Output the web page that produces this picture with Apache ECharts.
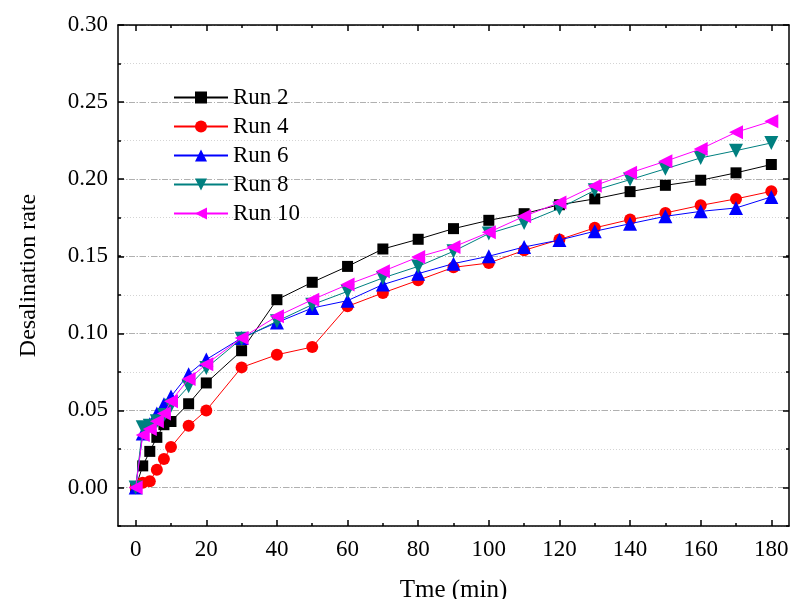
<!DOCTYPE html>
<html>
<head>
<meta charset="utf-8">
<script src="https://cdn.jsdelivr.net/npm/echarts@6/dist/echarts.min.js"></script>
<style>html,body{margin:0;padding:0;background:#fff;}#c{width:792px;height:599px;}</style>
</head>
<body>
<div id="c"></div>
<script>
var times = [0, 2, 4, 6, 8, 10, 15, 20, 30, 40, 50, 60, 70, 80, 90, 100, 110, 120, 130, 140, 150, 160, 170, 180];
var run2 = [0, 0.014, 0.0234, 0.0325, 0.0407, 0.0428, 0.0543, 0.0678, 0.0887, 0.1218, 0.1331, 0.1434, 0.1547, 0.161, 0.1679, 0.1733, 0.1776, 0.1834, 0.1872, 0.1919, 0.196, 0.1993, 0.2041, 0.2095];
var run4 = [0, 0.003, 0.004, 0.0115, 0.0184, 0.0262, 0.040, 0.050, 0.0779, 0.0861, 0.0911, 0.1175, 0.1262, 0.1344, 0.1428, 0.1456, 0.1538, 0.1608, 0.1684, 0.1738, 0.1781, 0.183, 0.1872, 0.1921];
var run6 = [0, 0.035, 0.041, 0.048, 0.054, 0.059, 0.0735, 0.083, 0.097, 0.107, 0.1164, 0.1212, 0.1316, 0.1387, 0.1452, 0.150, 0.156, 0.1605, 0.1662, 0.1711, 0.1759, 0.1791, 0.1813, 0.1885];
var run8 = [0, 0.039, 0.040, 0.043, 0.047, 0.053, 0.0656, 0.0775, 0.0965, 0.1078, 0.1186, 0.1272, 0.1359, 0.1434, 0.1532, 0.1647, 0.1716, 0.181, 0.1928, 0.1997, 0.2067, 0.2138, 0.2185, 0.2235];
var run10 = [0, 0.034, 0.038, 0.043, 0.048, 0.056, 0.0703, 0.080, 0.097, 0.111, 0.1218, 0.1316, 0.1402, 0.1495, 0.156, 0.1655, 0.1759, 0.1848, 0.1958, 0.2041, 0.2116, 0.2196, 0.2304, 0.2376];
var seriesNames = ['Run 2', 'Run 4', 'Run 6', 'Run 8', 'Run 10'];
var xMajorTicks = [0, 20, 40, 60, 80, 100, 120, 140, 160, 180];
var xMinorTicks = [10, 30, 50, 70, 90, 110, 130, 150, 170];

var FONT = '"Liberation Serif", "Times New Roman", serif';
function pairs(ys) { return times.map(function (t, i) { return [t, ys[i]]; }); }

var colors = ['#000000', '#ff0000', '#0000ff', '#008080', '#ff00ff'];
var symbols = ['rect', 'circle', 'triangle', 'triangle', 'triangle'];
var rotates = [0, 0, 0, 180, 90];
var sizes = [11, 12, 14, 14, 14];
var allData = [run2, run4, run6, run8, run10];

var G = { left: 118, right: 3, top: 25, bottom: 73 };
var axisLineStyle = { color: '#000', width: 1.5 };
var tickStyle = { color: '#000', width: 1.5 };

var option = {
  animation: false,
  backgroundColor: '#fff',
  grid: [
    { left: G.left, right: G.right, top: G.top, bottom: G.bottom, containLabel: false, outerBoundsMode: 'none' },
    { left: G.left, right: G.right, top: G.top, bottom: G.bottom + 38.5, containLabel: false, outerBoundsMode: 'none' }
  ],
  legend: {
    orient: 'vertical', left: 173, top: 86, padding: 0,
    itemWidth: 54, itemHeight: 15, itemGap: 6,
    textStyle: { fontFamily: FONT, fontSize: 23, color: '#000' },
    data: seriesNames
  },
  xAxis: [
    { type: 'value', gridIndex: 0, position: 'bottom', min: -5, max: 185,
      name: 'Tme (min)', nameLocation: 'middle', nameGap: 52,
      nameTextStyle: { fontFamily: FONT, fontSize: 25, color: '#000' },
      axisLine: { show: true, onZero: false, lineStyle: axisLineStyle },
      axisTick: { show: true, inside: true, length: 6, customValues: xMajorTicks, lineStyle: tickStyle },
      axisLabel: { show: true, customValues: xMajorTicks, margin: 12, fontFamily: FONT, fontSize: 23, color: '#000' },
      splitLine: { show: false } },
    { type: 'value', gridIndex: 0, position: 'bottom', min: -5, max: 185,
      axisLine: { show: false, onZero: false },
      axisTick: { show: true, inside: true, length: 3, customValues: xMinorTicks, lineStyle: tickStyle },
      axisLabel: { show: false }, splitLine: { show: false } },
    { type: 'value', gridIndex: 0, position: 'top', min: -5, max: 185,
      axisLine: { show: true, onZero: false, lineStyle: axisLineStyle },
      axisTick: { show: true, inside: true, length: 6, customValues: xMajorTicks, lineStyle: tickStyle },
      axisLabel: { show: false }, splitLine: { show: false } },
    { type: 'value', gridIndex: 0, position: 'top', min: -5, max: 185,
      axisLine: { show: false, onZero: false },
      axisTick: { show: true, inside: true, length: 3, customValues: xMinorTicks, lineStyle: tickStyle },
      axisLabel: { show: false }, splitLine: { show: false } },
    { type: 'value', gridIndex: 1, show: false, min: -5, max: 185 }
  ],
  yAxis: [
    { type: 'value', gridIndex: 0, position: 'left', min: -0.025, max: 0.3, interval: 0.025,
      name: 'Desalination rate', nameLocation: 'middle', nameGap: 77,
      nameTextStyle: { fontFamily: FONT, fontSize: 24, color: '#000' },
      axisLine: { show: true, onZero: false, lineStyle: axisLineStyle },
      axisTick: { show: true, inside: true, length: 3, lineStyle: tickStyle },
      axisLabel: { show: false },
      splitLine: { show: true, lineStyle: { color: '#d4d4d4', width: 1, type: [1, 2] } } },
    { type: 'value', gridIndex: 0, position: 'right', min: -0.025, max: 0.3, interval: 0.025,
      axisLine: { show: true, onZero: false, lineStyle: axisLineStyle },
      axisTick: { show: true, inside: true, length: 3, lineStyle: tickStyle },
      axisLabel: { show: false }, splitLine: { show: false } },
    { type: 'value', gridIndex: 1, position: 'left', min: 0, max: 0.3, interval: 0.05,
      axisLine: { show: false, onZero: false },
      axisTick: { show: true, inside: true, length: 6, lineStyle: tickStyle },
      axisLabel: { show: true, margin: 10, fontFamily: FONT, fontSize: 23, color: '#000',
        formatter: function (v) { return v.toFixed(2); } },
      splitLine: { show: true, showMinLine: true, lineStyle: { color: '#b0b0b0', width: 1, type: [6, 2, 1, 2] } } },
    { type: 'value', gridIndex: 1, position: 'right', min: 0, max: 0.3, interval: 0.05,
      axisLine: { show: false, onZero: false },
      axisTick: { show: true, inside: true, length: 6, lineStyle: tickStyle },
      axisLabel: { show: false }, splitLine: { show: false } }
  ],
  series: seriesNames.map(function (name, i) {
    return {
      name: name, type: 'line', xAxisIndex: 0, yAxisIndex: 0,
      data: pairs(allData[i]),
      symbol: symbols[i], symbolSize: sizes[i], symbolRotate: rotates[i],
      showAllSymbol: true,
      color: colors[i],
      itemStyle: { color: colors[i] },
      lineStyle: { color: colors[i], width: 1 },
      z: 2 + i
    };
  })
};

var chart = echarts.init(document.getElementById('c'), null, { renderer: 'canvas' });
chart.setOption(option);
</script>
</body>
</html>
